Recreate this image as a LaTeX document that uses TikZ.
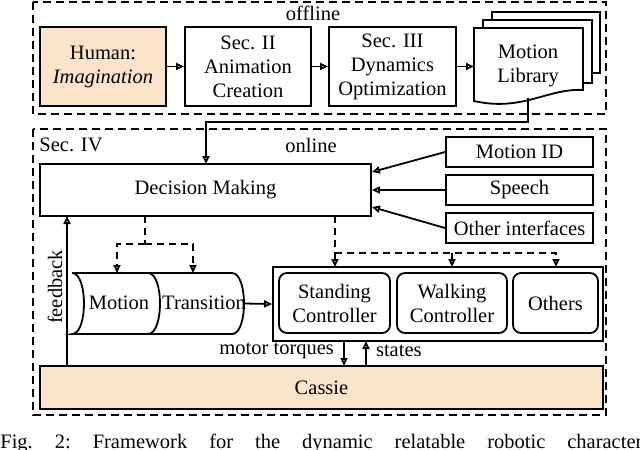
\documentclass[tikz,border=0pt]{standalone}
\usepackage{fontspec}
\setmainfont{Liberation Serif}
\usepackage{tikz}
\usetikzlibrary{arrows.meta,calc}
\definecolor{peach}{RGB}{252,228,203}

\tikzset{
	blk/.style={draw, line width=0.9pt, inner sep=0pt, align=center},
	ctrl/.style={blk, rounded corners=4pt},
	grp/.style={draw, line width=0.9pt, dash pattern=on 4pt off 2.5pt},
	dline/.style={line width=0.9pt, dash pattern=on 3.5pt off 2.5pt},
	conn/.style={line width=0.9pt},
	pg/.style={draw, fill=white, line width=0.9pt},
}

\begin{document}
\begin{tikzpicture}[x=0.5pt, y=-0.5pt, >={Triangle[open,length=4pt,width=3.5pt]}, font=\fontsize{10.25}{12}\selectfont]

	\useasboundingbox (0,0) rectangle (640,449);

	% gruppen
	\draw[grp] (33,2) rectangle (606,114);
	\draw[grp] (33,129) rectangle (606,415);

	\node[](offline) at (313,13) {offline};
	\node[](online) at (311,145) {online};
	\node[](secIV) at (71,145) {Sec. IV};

	% offline
	\node[blk, fill=peach, minimum width=63pt, minimum height=39.5pt](human) at (103,66.5) {Human:\\\textit{Imagination}};
	\node[blk, minimum width=63pt, minimum height=39.5pt](sec2) at (248,66.5) {Sec. II\\Animation\\Creation};
	\node[blk, minimum width=63.5pt, minimum height=39.5pt](sec3) at (392.5,66.5) {Sec. III\\Dynamics\\Optimization};

	\draw[pg] (492,12) rectangle (600,73);
	\draw[pg] (483,20) rectangle (592,83);
	\draw[pg] (474,28) -- (583,28) -- (583,90) .. controls (548,88) and (522,112) .. (474,101) -- cycle;
	\node[align=center, inner sep=0pt](lib) at (528,66) {Motion\\Library};

	\coordinate(lib_in) at (474,66.5);
	\coordinate(lib_out) at (528,98);

	% online
	\node[blk, minimum width=165.5pt, minimum height=26pt](dm) at (205.5,190) {Decision Making};

	\node[blk, minimum width=73.5pt, minimum height=15pt](mid) at (519.5,152) {Motion ID};
	\node[blk, minimum width=73.5pt, minimum height=15pt](speech) at (519.5,190) {Speech};
	\node[blk, minimum width=73.5pt, minimum height=15pt](other) at (519.5,228) {Other interfaces};

	% zylinder
	\draw[conn] (72,273) -- (232,273) .. controls (248,273) and (248,334) .. (232,334) -- (72,334) .. controls (88,334) and (88,273) .. (72,273);
	\draw[conn] (148,273) .. controls (164,273) and (164,334) .. (148,334);
	\node[](mot) at (119,303) {Motion};
	\node[](trans) at (204,303) {Transition};

	\coordinate(cyl_out) at (244,303.5);
	\coordinate(mot_in) at (117,273);
	\coordinate(trans_in) at (193,273);

	% regler
	\node[blk, minimum width=165pt, minimum height=37pt](ctrlbox) at (438,304) {};
	\node[ctrl, minimum width=55.5pt, minimum height=30pt](stand) at (334.5,303) {Standing\\Controller};
	\node[ctrl, minimum width=55pt, minimum height=30pt](walk) at (452,303) {Walking\\Controller};
	\node[ctrl, minimum width=42.5pt, minimum height=30pt](others) at (555.5,303) {Others};

	\coordinate(stand_in) at (335,267);
	\coordinate(walk_in) at (452,267);
	\coordinate(oth_in) at (556,267);

	\node[blk, fill=peach, minimum width=281.5pt, minimum height=21.5pt](cassie) at (321.5,387.5) {Cassie};

	\coordinate(dm_a) at (145,216);
	\coordinate(dm_b) at (335,216);
	\coordinate(dm_in) at (206,164);
	\coordinate(fb_start) at (67,366);
	\coordinate(fb_ende) at (67,216);
	\coordinate(tq_start) at (344,341);
	\coordinate(tq_ende) at (344,366);
	\coordinate(st_start) at (366,366);
	\coordinate(st_ende) at (366,341);

	% pfeile
	\draw[conn,->](human) -- (sec2);
	\draw[conn,->](sec2) -- (sec3);
	\draw[conn,->](sec3) -- (lib_in);
	\draw[conn,->](lib_out) -- ++(0,24) -| (dm_in);

	\draw[conn,->](mid.west) -- ([yshift=9pt]dm.east);
	\draw[conn,->](speech.west) -- (dm.east);
	\draw[conn,->](other.west) -- ([yshift=-8.5pt]dm.east);

	\draw[dline](dm_a) -- ++(0,28) coordinate(split_a);
	\draw[dline,->](split_a) -| (mot_in);
	\draw[dline,->](split_a) -| (trans_in);

	\draw[dline](dm_b) -- ++(0,37) coordinate(split_b);
	\draw[dline,->](split_b) -- (stand_in);
	\draw[dline,->](split_b) -| (oth_in);
	\draw[dline,->](split_b -| walk_in) -- (walk_in);

	\draw[conn,->](cyl_out) -- (ctrlbox.west);

	\draw[conn,->](fb_start) -- (fb_ende);
	\draw[conn,->](tq_start) -- (tq_ende);
	\draw[conn,->](st_start) -- (st_ende);

	\node[rotate=90](fb) at (55,287) {feedback};
	\node[anchor=east](torques) at (341,351) {motor torques};
	\node[anchor=west](states) at (369,351) {states};

	% bildunterschrift
	\node[anchor=base west, inner sep=0pt](cap) at (0,448) {\frenchspacing\makebox[321pt][s]{Fig. 2: Framework for the dynamic relatable robotic character}};
\end{tikzpicture}
\end{document}
